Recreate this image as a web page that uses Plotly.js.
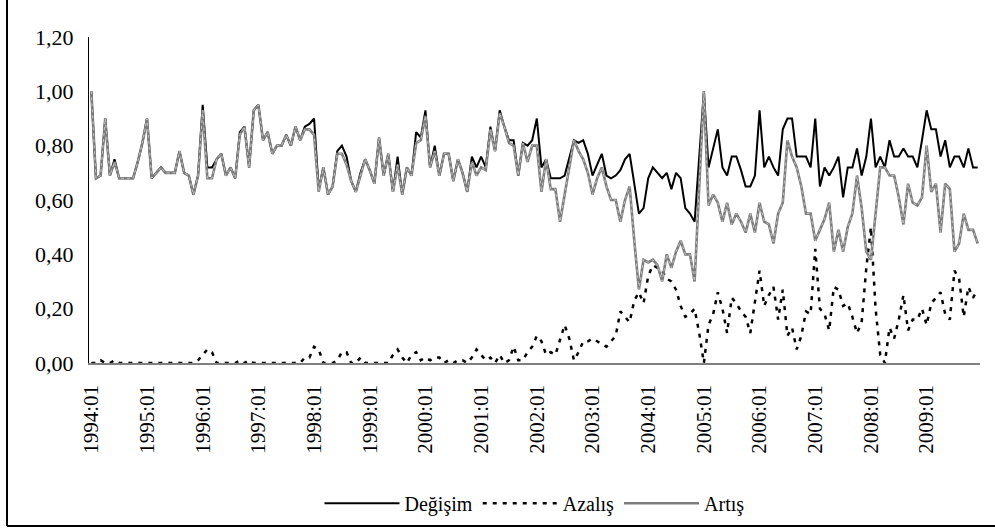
<!DOCTYPE html>
<html>
<head>
<meta charset="utf-8">
<script src="https://cdn.plot.ly/plotly-3.0.1.min.js"></script>
<style>
  html, body { margin: 0; padding: 0; background: #fff; }
  #chart { width: 995px; height: 528px; }
</style>
</head>
<body>
<div id="chart"></div>
<script>
// Monthly series, 1994:01 - 2009:12 (one row per year)
const years = [1994, 1995, 1996, 1997, 1998, 1999, 2000, 2001,
               2002, 2003, 2004, 2005, 2006, 2007, 2008, 2009];

const degisim = [
  1.00,0.68,0.69,0.90,0.69,0.75,0.68,0.68,0.68,0.68,0.74,0.81,
  0.90,0.68,0.70,0.72,0.70,0.70,0.70,0.78,0.70,0.69,0.62,0.69,
  0.95,0.72,0.72,0.75,0.77,0.69,0.72,0.68,0.85,0.87,0.72,0.93,
  0.95,0.82,0.85,0.77,0.80,0.80,0.84,0.80,0.87,0.82,0.87,0.88,
  0.90,0.64,0.72,0.62,0.65,0.78,0.80,0.76,0.67,0.63,0.70,0.75,
  0.71,0.66,0.83,0.69,0.77,0.63,0.76,0.62,0.72,0.69,0.85,0.83,
  0.93,0.72,0.80,0.69,0.77,0.77,0.67,0.75,0.70,0.63,0.76,0.72,
  0.76,0.72,0.87,0.78,0.93,0.87,0.82,0.82,0.69,0.81,0.80,0.82,
  0.90,0.72,0.75,0.68,0.68,0.68,0.69,0.76,0.82,0.81,0.82,0.77,
  0.69,0.73,0.77,0.69,0.68,0.69,0.71,0.75,0.77,0.66,0.55,0.57,
  0.68,0.72,0.70,0.68,0.70,0.64,0.70,0.68,0.57,0.55,0.52,0.76,
  1.00,0.72,0.79,0.86,0.72,0.69,0.76,0.76,0.71,0.65,0.65,0.69,
  0.93,0.72,0.76,0.72,0.69,0.86,0.90,0.90,0.76,0.76,0.76,0.72,
  0.90,0.65,0.72,0.69,0.72,0.76,0.61,0.72,0.72,0.79,0.69,0.76,
  0.90,0.72,0.76,0.72,0.82,0.76,0.76,0.79,0.76,0.76,0.72,0.82,
  0.93,0.86,0.86,0.76,0.82,0.72,0.76,0.76,0.72,0.79,0.72,0.72
];

const azalis = [
  0.00,0.00,0.01,0.00,0.00,0.01,0.00,0.00,0.00,0.00,0.00,0.00,
  0.00,0.00,0.00,0.00,0.00,0.00,0.00,0.00,0.00,0.00,0.00,0.01,
  0.03,0.05,0.04,0.00,0.00,0.00,0.00,0.00,0.01,0.00,0.01,0.00,
  0.00,0.00,0.00,0.00,0.00,0.00,0.00,0.00,0.00,0.00,0.02,0.02,
  0.06,0.05,0.00,0.00,0.00,0.01,0.04,0.04,0.00,0.00,0.02,0.00,
  0.00,0.00,0.00,0.00,0.00,0.03,0.05,0.02,0.00,0.03,0.04,0.01,
  0.02,0.01,0.02,0.02,0.00,0.01,0.00,0.01,0.01,0.00,0.02,0.05,
  0.03,0.01,0.02,0.00,0.03,0.00,0.01,0.06,0.01,0.01,0.04,0.06,
  0.10,0.08,0.03,0.04,0.03,0.09,0.14,0.09,0.01,0.04,0.08,0.08,
  0.09,0.08,0.07,0.06,0.08,0.10,0.19,0.17,0.15,0.23,0.26,0.22,
  0.32,0.36,0.35,0.34,0.31,0.30,0.27,0.21,0.17,0.18,0.20,0.11,
  0.00,0.14,0.18,0.26,0.20,0.11,0.24,0.22,0.19,0.17,0.11,0.22,
  0.34,0.21,0.25,0.28,0.16,0.27,0.10,0.13,0.05,0.10,0.19,0.18,
  0.42,0.20,0.18,0.12,0.28,0.27,0.21,0.22,0.17,0.11,0.15,0.35,
  0.50,0.20,0.03,0.00,0.13,0.09,0.16,0.25,0.12,0.16,0.16,0.20,
  0.14,0.22,0.24,0.26,0.18,0.16,0.34,0.31,0.17,0.28,0.24,0.27
];

const artis = [
  1.00,0.68,0.69,0.90,0.69,0.74,0.68,0.68,0.68,0.68,0.74,0.81,
  0.90,0.68,0.70,0.72,0.70,0.70,0.70,0.78,0.70,0.69,0.62,0.69,
  0.93,0.68,0.68,0.75,0.77,0.69,0.72,0.68,0.84,0.87,0.72,0.93,
  0.95,0.82,0.85,0.77,0.80,0.80,0.84,0.80,0.87,0.82,0.86,0.86,
  0.84,0.63,0.72,0.62,0.65,0.77,0.77,0.73,0.67,0.63,0.69,0.75,
  0.71,0.66,0.83,0.69,0.77,0.63,0.73,0.62,0.72,0.69,0.81,0.82,
  0.91,0.72,0.78,0.69,0.77,0.77,0.67,0.75,0.70,0.63,0.74,0.69,
  0.72,0.71,0.86,0.78,0.92,0.87,0.81,0.80,0.69,0.81,0.74,0.80,
  0.80,0.63,0.75,0.64,0.64,0.52,0.62,0.72,0.82,0.78,0.75,0.70,
  0.62,0.68,0.72,0.65,0.60,0.60,0.52,0.60,0.65,0.45,0.27,0.38,
  0.37,0.38,0.36,0.30,0.40,0.35,0.41,0.45,0.40,0.40,0.30,0.65,
  1.00,0.58,0.62,0.59,0.52,0.59,0.51,0.55,0.52,0.48,0.55,0.48,
  0.59,0.52,0.51,0.44,0.55,0.59,0.82,0.76,0.72,0.65,0.55,0.55,
  0.45,0.49,0.53,0.59,0.41,0.49,0.41,0.50,0.55,0.69,0.57,0.41,
  0.38,0.55,0.72,0.72,0.69,0.69,0.61,0.51,0.66,0.59,0.58,0.61,
  0.80,0.63,0.66,0.48,0.66,0.64,0.41,0.44,0.55,0.49,0.49,0.44
];

const yTickVals = [0, 0.2, 0.4, 0.6, 0.8, 1.0, 1.2];
const yTickText = ['0,00', '0,20', '0,40', '0,60', '0,80', '1,00', '1,20'];

// category labels "YYYY:MM"; every January is labelled on the axis
const months = [];
years.forEach(y => {
  for (let m = 1; m <= 12; m++) months.push(y + ':' + (m < 10 ? '0' + m : m));
});
const xTickLabels = years.map(y => y + ':01');

const serif = '"Liberation Serif", "Times New Roman", serif';

const traces = [
  {
    x: months, y: degisim, name: 'Değişim', type: 'scatter', mode: 'lines',
    line: { color: '#000000', width: 2 }
  },
  {
    x: months, y: azalis, name: 'Azalış', type: 'scatter', mode: 'lines',
    line: { color: '#000000', width: 2.5, dash: '4px,6px' }
  },
  {
    x: months, y: artis, name: 'Artış', type: 'scatter', mode: 'lines',
    line: { color: '#7c7c7c', width: 2.6 }
  },
  {
    // light dotted core of the Artış line
    x: months, y: artis, name: 'Artış', type: 'scatter', mode: 'lines',
    showlegend: false,
    line: { color: '#c4c4c4', width: 1, dash: 'dot' }
  }
];

const layout = {
  width: 995,
  height: 528,
  margin: { l: 89, r: 15, t: 37, b: 165, autoexpand: false },
  paper_bgcolor: '#ffffff',
  plot_bgcolor: '#ffffff',
  font: { family: serif, color: '#000000', size: 21 },
  showlegend: true,
  legend: {
    orientation: 'h',
    x: 0.5, xanchor: 'center',
    y: -0.43, yanchor: 'middle',
    font: { family: serif, size: 20, color: '#000' },
    itemwidth: 75,
    traceorder: 'normal'
  },
  xaxis: {
    type: 'category',
    categoryorder: 'array',
    categoryarray: months,
    range: [-0.5, months.length - 0.5],
    tickmode: 'array',
    tickvals: xTickLabels,
    ticktext: xTickLabels,
    tickangle: -90,
    ticks: '',
    ticklabelstandoff: 12,
    showgrid: false,
    zeroline: false,
    showline: true,
    linecolor: '#808080',
    linewidth: 1.5,
    tickfont: { family: serif, size: 21, color: '#000' }
  },
  yaxis: {
    range: [0, 1.2],
    tickmode: 'array',
    tickvals: yTickVals,
    ticktext: yTickText,
    ticks: '',
    ticklabelstandoff: 10,
    showgrid: false,
    zeroline: false,
    showline: true,
    linecolor: '#000000',
    linewidth: 1,
    tickfont: { family: serif, size: 22, color: '#000' }
  },
  shapes: [
    // frame around the figure (left and bottom edges)
    { type: 'line', xref: 'paper', yref: 'paper',
      x0: -82 / 891, x1: -82 / 891, y0: -163 / 326, y1: 37 / 326 + 1,
      line: { color: '#000', width: 2 } },
    { type: 'line', xref: 'paper', yref: 'paper',
      x0: -82 / 891, x1: 906 / 891, y0: -163 / 326, y1: -163 / 326,
      line: { color: '#000', width: 2 } }
  ]
};

Plotly.newPlot('chart', traces, layout, { staticPlot: true, displayModeBar: false });
</script>
</body>
</html>
